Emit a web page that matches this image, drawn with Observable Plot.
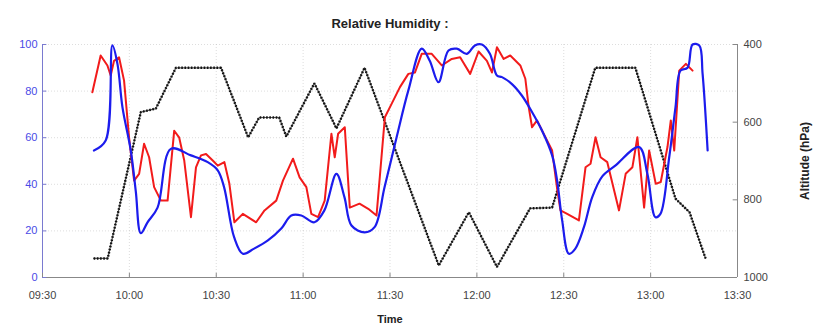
<!DOCTYPE html>
<html><head><meta charset="utf-8">
<script src="https://cdn.jsdelivr.net/npm/d3@7"></script>
<script src="https://cdn.jsdelivr.net/npm/@observablehq/plot@0.6"></script>
<style>body{margin:0;background:#fff;}</style>
</head><body><div id="chart"></div>
<script>
// ---- data ----
const blueTimes = ["09:47:46","09:51:49","09:54:09","09:55:53","09:57:37","10:00:29","10:02:13","10:03:57","10:06:16","10:09:44","10:14:20","10:21:16","10:27:03","10:30:31","10:32:42","10:36:10","10:39:11","10:43:05","10:47:50","10:52:27","10:55:55","10:59:23","11:03:53","11:07:20","11:11:30","11:14:16","11:16:42","11:21:12","11:24:40","11:28:08","11:32:17","11:36:20","11:40:57","11:43:43","11:46:44","11:50:12","11:53:04","11:56:32","11:59:19","12:01:44","12:04:30","12:06:56","12:08:40","12:12:07","12:15:35","12:19:03","12:22:31","12:25:59","12:27:43","12:29:27","12:31:46","12:33:57","12:36:58","12:39:50","12:43:18","12:47:48","12:56:01","12:58:53","13:01:40","13:03:23","13:06:25","13:08:35","13:10:19","13:12:45","13:14:29","13:16:48","13:17:57","13:19:41"];
const blueRH = [54.5,58.8,99.6,91.7,73,54.5,37,19,23.7,30,55.2,52.4,49.5,46,38.8,17.3,10.2,12.4,15.9,21,26.6,26.6,23.7,28.8,44.5,34.5,22.3,19.4,21.6,38.8,60.2,80.3,98.2,93,83.8,97.4,98.2,96,99.6,100,96,86.7,86,83,78,71,63,52.4,41.6,24.5,10.2,12.3,21.6,34.5,43.4,48,56,44.5,25.9,27.3,51.6,73,88.8,90,100,99.6,87.4,54.5];

const redTimes = ["09:47:13","09:50:05","09:52:25","09:53:33","09:54:42","09:56:26","09:58:10","09:59:54","10:01:38","10:03:22","10:05:05","10:06:49","10:08:33","10:10:53","10:13:12","10:15:29","10:17:13","10:18:57","10:21:16","10:23:00","10:24:44","10:26:28","10:28:47","10:30:31","10:32:49","10:34:32","10:36:16","10:39:11","10:43:47","10:46:40","10:50:43","10:53:02","10:56:30","10:58:47","11:01:07","11:02:50","11:05:10","11:07:27","11:09:46","11:10:55","11:12:05","11:14:23","11:16:07","11:19:28","11:22:29","11:25:21","11:28:14","11:30:33","11:33:26","11:36:20","11:38:38","11:40:57","11:44:25","11:47:53","11:51:20","11:54:13","11:57:41","12:00:35","12:03:28","12:05:12","12:06:56","12:09:15","12:11:32","12:15:00","12:16:44","12:17:55","12:19:03","12:20:47","12:23:40","12:25:59","12:27:43","12:28:52","12:31:11","12:35:14","12:37:31","12:39:15","12:40:59","12:42:43","12:45:02","12:49:05","12:51:23","12:53:42","12:55:26","12:57:45","12:59:29","13:01:46","13:03:30","13:05:49","13:06:58","13:08:09","13:09:53","13:12:10","13:14:29"];
const redRH = [79.5,95.3,91,86.7,93,94.5,84.5,60,41.6,44.5,57.4,51.6,38.8,33,33,63,60,50.2,25.9,47.3,52.4,53,50.2,48,49.5,40.2,23.7,27.3,23.7,28.8,33,41.6,51,43,38.8,27.3,25.9,33,61.7,51.6,61.7,64.5,30,31.7,29.5,26.6,68.8,74.5,81.7,87.4,88,96,96,91,93.8,94.5,87.4,97,93,88,98.8,93.8,95.3,91,85.3,73,64.5,67.4,60.2,54.5,38,28.8,27.3,24.5,47.3,48.8,60.2,51.6,49.5,28.8,44.5,47.3,60.2,30,54.5,40.2,41,56,67.4,54.5,88.8,91.7,88.8];

const altTimes = ["09:47:40","09:52:31","10:03:57","10:09:09","10:16:04","10:31:40","10:41:01","10:44:50","10:51:45","10:54:11","11:03:53","11:11:30","11:21:12","11:46:50","11:57:14","12:06:56","12:18:22","12:25:59","12:40:53","12:54:44","13:08:35","13:13:26","13:18:59"];
const altHPa = [951,951,574,565,460,460,639,588,588,637,500,616,460,969,832,973,822,820,460,460,797,832,951];

const xTickLabels = ["09:30","10:00","10:30","11:00","11:30","12:00","12:30","13:00","13:30"];
const rhTicks = [0,20,40,60,80,100];
const hPaTicks = [400,600,800,1000];
const titleText = "Relative Humidity :";
const xLabel = "Time";
const rightLabel = "Altitude (hPa)";

// ---- build ----
const parse = t => new Date("2020-01-01T" + (t.length === 5 ? t + ":00" : t) + "Z");
const toRH = p => (1000 - p) / 6;   // right axis (hPa, reversed) mapped onto left scale
const blue = blueTimes.map((t, i) => ({t: parse(t), v: blueRH[i]}));
const red = redTimes.map((t, i) => ({t: parse(t), v: redRH[i]}));
const alt = altTimes.map((t, i) => ({t: parse(t), v: toRH(altHPa[i])}));
const xTicks = xTickLabels.map(parse);
const x0 = xTicks[0], x1 = xTicks[xTicks.length - 1];
const hPaPos = hPaTicks.map(toRH);
const tickLen = 90 * 1000;

const chart = Plot.plot({
  width: 817, height: 331,
  marginLeft: 42, marginRight: 80, marginTop: 44, marginBottom: 54,
  style: {fontFamily: "'Liberation Sans', Arial, sans-serif", fontSize: "11px", background: "#fff"},
  x: {type: "utc", domain: [x0, x1]},
  y: {domain: [0, 100]},
  marks: [
    Plot.gridX(xTicks, {stroke: "#bbb", strokeOpacity: 0.5, strokeDasharray: "1,2"}),
    Plot.gridY(rhTicks, {stroke: "#bbb", strokeOpacity: 0.5, strokeDasharray: "1,2"}),
    Plot.line(alt, {x: "t", y: "v", stroke: "#555", strokeWidth: 1.2}),
    Plot.line(alt, {x: "t", y: "v", stroke: "#111", strokeWidth: 2.4, strokeDasharray: "1.6,1.6", strokeLinecap: "butt", strokeLinejoin: "miter"}),
    Plot.line(red, {x: "t", y: "v", stroke: "#f21b1b", strokeWidth: 2}),
    Plot.line(blue, {x: "t", y: "v", stroke: "#1c1ced", strokeWidth: 2.2, curve: "catmull-rom"}),
    Plot.ruleY([0], {stroke: "#888"}),
    Plot.ruleX([x0], {stroke: "#7a7ad0"}),
    Plot.ruleX([x1], {stroke: "#888"}),
    Plot.ruleX(xTicks, {y1: 0, y2: 1.8, stroke: "#888"}),
    Plot.ruleY(rhTicks, {x1: x0, x2: new Date(+x0 + tickLen), stroke: "#7a7ad0"}),
    Plot.ruleY(hPaPos, {x1: new Date(+x1 - tickLen), x2: x1, stroke: "#888"}),
    Plot.axisX(xTicks, {tickSize: 0, tickPadding: 14, tickFormat: d3.utcFormat("%H:%M"), label: null, color: "#444"}),
    Plot.axisY(rhTicks, {anchor: "left", tickSize: 0, tickPadding: 5, label: null, color: "#4a4ae6"}),
    Plot.axisY(hPaPos, {anchor: "right", tickSize: 0, tickPadding: 6, label: null, color: "#444",
      tickFormat: v => String(Math.round(1000 - 6 * v))}),
    Plot.text([titleText], {frameAnchor: "top", dy: -26, fontWeight: "bold", fontSize: 13, fill: "#222"}),
    Plot.text([xLabel], {frameAnchor: "bottom", dy: 45, fontWeight: "bold", fontSize: 11, fill: "#222"}),
    Plot.text([rightLabel], {frameAnchor: "right", dx: 68, rotate: -90, textAnchor: "middle", fontWeight: "bold", fontSize: 12, fill: "#222"})
  ]
});
document.getElementById("chart").appendChild(chart);
</script>
</body></html>
